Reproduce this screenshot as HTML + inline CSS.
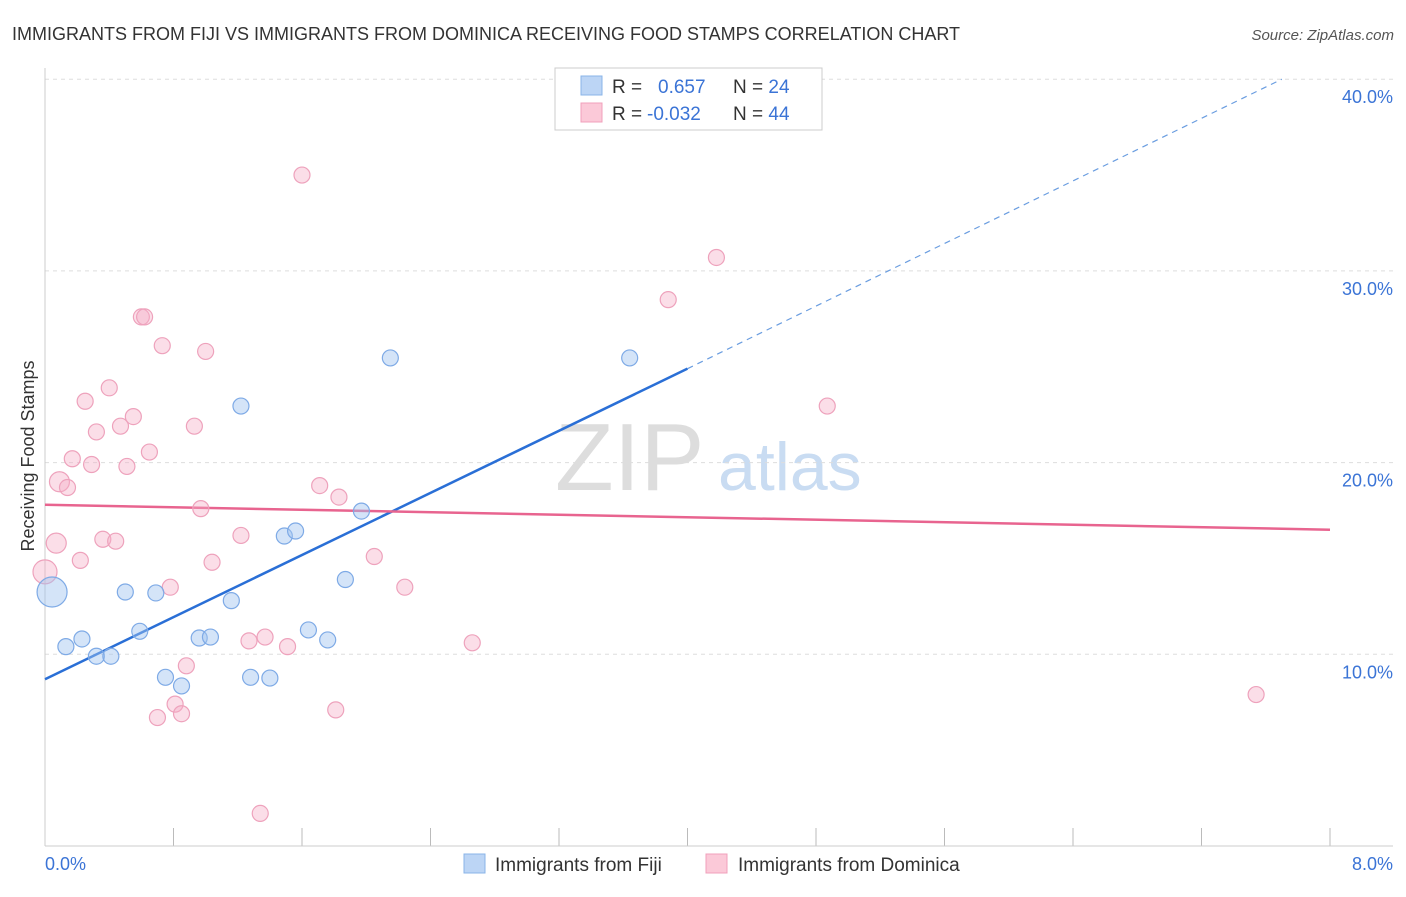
<!DOCTYPE html>
<html><head><meta charset="utf-8"><style>
body{margin:0;background:#fff;font-family:"Liberation Sans",sans-serif;}
svg text{font-family:"Liberation Sans",sans-serif;}
</style></head><body>
<svg id="chart" width="1406" height="892">
<text x="12" y="40" font-size="18" fill="#333">IMMIGRANTS FROM FIJI VS IMMIGRANTS FROM DOMINICA RECEIVING FOOD STAMPS CORRELATION CHART</text>
<text x="1394" y="40" font-size="15" fill="#555" font-style="italic" text-anchor="end">Source: ZipAtlas.com</text>
<text x="34" y="456" font-size="18" fill="#333" transform="rotate(-90 34 456)" text-anchor="middle">Receiving Food Stamps</text>
<g><text x="555" y="490" font-size="96" fill="#ddd" font-family="Liberation Serif,serif">ZIP</text><text x="718" y="490" font-size="68" fill="#c9dcf2">atlas</text></g>
<g id="grid"></g><g id="ticks"></g>
<line x1="45" y1="68" x2="45" y2="846" stroke="#ccc"/>
<line x1="45" y1="846" x2="1393" y2="846" stroke="#ccc"/>
<g id="lines"></g><g id="points"></g>
<text x="45" y="870" font-size="18" fill="#3b74d6">0.0%</text>
<text x="1393" y="870" font-size="18" fill="#3b74d6" text-anchor="end">8.0%</text>
<g>
<rect x="555" y="68" width="267" height="62" fill="#fff" stroke="#ccc"/>
<rect x="581" y="76" width="21" height="19" fill="#bcd5f5" stroke="#8ab4e8"/>
<rect x="581" y="103" width="21" height="19" fill="#fbc9d8" stroke="#f0a0bb"/>
<text x="612" y="93" font-size="19" fill="#333">R = <tspan fill="#3b74d6" x="658">0.657</tspan><tspan x="733" fill="#333">N = </tspan><tspan fill="#3b74d6">24</tspan></text>
<text x="612" y="120" font-size="19" fill="#333">R = <tspan fill="#3b74d6" x="647">-0.032</tspan><tspan x="733" fill="#333">N = </tspan><tspan fill="#3b74d6">44</tspan></text>
</g>
<g>
<rect x="464" y="854" width="21" height="19" fill="#bcd5f5" stroke="#8ab4e8"/>
<text x="495" y="871" font-size="19" fill="#333">Immigrants from Fiji</text>
<rect x="706" y="854" width="21" height="19" fill="#fbc9d8" stroke="#f0a0bb"/>
<text x="738" y="871" font-size="19" fill="#333">Immigrants from Dominica</text>
</g>
</svg>
<script>
const yTicks=[10,20,30,40];
const yTickLabels=["10.0%","20.0%","30.0%","40.0%"];
const xTicks=[0,0.8,1.6,2.4,3.2,4.0,4.8,5.6,6.4,7.2,8.0];
const fijiX=[0.044,0.13,0.23,0.32,0.41,0.50,0.59,0.69,0.75,0.85,0.96,1.03,1.16,1.22,1.28,1.40,1.49,1.56,1.64,1.76,1.87,1.97,2.15,3.64];
const fijiY=[13.25,10.4,10.8,9.9,9.9,13.25,11.2,13.2,8.8,8.35,10.85,10.9,12.8,22.95,8.8,8.76,16.17,16.43,11.27,10.75,13.9,17.47,25.46,25.46];
const fijiR=[15,8,8,8,8,8,8,8,8,8,8,8,8,8,8,8,8,8,8,8,8,8,8,8];
const domX=[0,0.07,0.09,0.14,0.17,0.22,0.25,0.29,0.32,0.36,0.40,0.44,0.47,0.51,0.55,0.60,0.62,0.65,0.70,0.73,0.78,0.81,0.85,0.88,0.93,0.97,1.00,1.04,1.22,1.27,1.34,1.37,1.51,1.60,1.71,1.81,1.83,2.05,2.24,2.66,3.88,4.18,4.87,7.54];
const domY=[14.3,15.8,19.0,18.7,20.2,14.9,23.2,19.9,21.6,16.0,23.9,15.9,21.9,19.8,22.4,27.6,27.6,20.55,6.7,26.1,13.5,7.4,6.9,9.4,21.9,17.6,25.8,14.8,16.2,10.7,1.7,10.9,10.4,35.0,18.8,7.1,18.2,15.1,13.5,10.6,28.5,30.7,22.95,7.9];
const domR=[12,10,10,8,8,8,8,8,8,8,8,8,8,8,8,8,8,8,8,8,8,8,8,8,8,8,8,8,8,8,8,8,8,8,8,8,8,8,8,8,8,8,8,8];
const fijiLine=[[0,8.7],[4.0,24.9],[7.7,40]];
const domLine=[[0,17.8],[8,16.5]];
const X=v=>45+v/8*1285, Y=v=>846-v*19.17;
const NS="http://www.w3.org/2000/svg";
function mk(t,a,p){const e=document.createElementNS(NS,t);for(const k in a)e.setAttribute(k,a[k]);p.appendChild(e);return e;}
const grid=document.getElementById('grid'),ticks=document.getElementById('ticks'),lines=document.getElementById('lines'),pts=document.getElementById('points');
yTicks.forEach((v,i)=>{
 const l=mk('line',{x1:45,x2:1393,y1:Y(v),y2:Y(v),stroke:'#ddd','stroke-dasharray':'4,4'},grid);
 
 
 const t=mk('text',{x:1393,y:Y(v)+24,'font-size':18,fill:'#3b74d6','text-anchor':'end'},ticks);
 t.textContent=yTickLabels[i];
 
 
});
xTicks.forEach(v=>{
 const l=mk('line',{x1:X(v),x2:X(v),y1:828,y2:846,stroke:'#bbb'},ticks);
 
 
});
let a=mk('line',{x1:X(fijiLine[0][0]),y1:Y(fijiLine[0][1]),x2:X(fijiLine[1][0]),y2:Y(fijiLine[1][1]),stroke:'#2a6fd6','stroke-width':2.5},lines);


a=mk('line',{x1:X(fijiLine[1][0]),y1:Y(fijiLine[1][1]),x2:X(fijiLine[2][0]),y2:Y(fijiLine[2][1]),stroke:'#6a9de0','stroke-width':1.2,'stroke-dasharray':'6,5'},lines);


a=mk('line',{x1:X(domLine[0][0]),y1:Y(domLine[0][1]),x2:X(domLine[1][0]),y2:Y(domLine[1][1]),stroke:'#e8648f','stroke-width':2.5},lines);


domX.forEach((v,i)=>{
 const c=mk('circle',{cx:X(v),cy:Y(domY[i]),r:domR[i],fill:'rgba(246,172,198,0.4)',stroke:'#eea2bc','stroke-width':1.2},pts);
 
 
});
fijiX.forEach((v,i)=>{
 const c=mk('circle',{cx:X(v),cy:Y(fijiY[i]),r:fijiR[i],fill:'rgba(160,196,240,0.45)',stroke:'#7eaae6','stroke-width':1.2},pts);
 
 
});
</script>
</body></html>
